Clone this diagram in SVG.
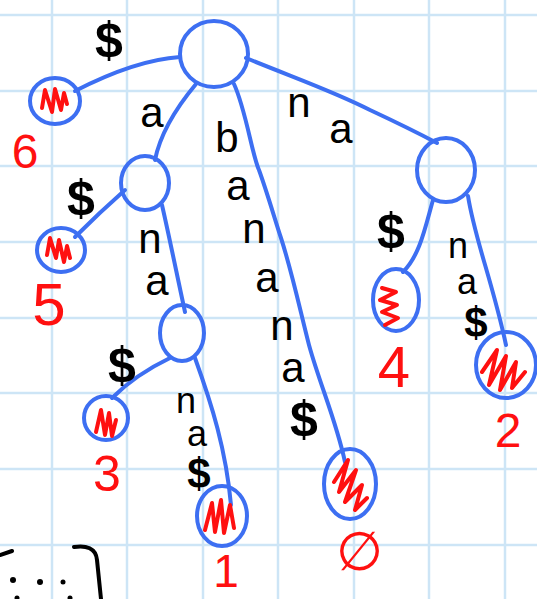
<svg xmlns="http://www.w3.org/2000/svg" width="537" height="599" viewBox="0 0 537 599">
<style>
.grid{stroke:#cde5f6;stroke-width:2.5;fill:none}
.node{fill:none;stroke:#3d6ff2;stroke-width:4}
.edge{fill:none;stroke:#3d6ff2;stroke-width:4;stroke-linecap:round;stroke-linejoin:round}
.scrib{fill:none;stroke:#ff1010;stroke-width:4;stroke-linecap:round;stroke-linejoin:round}
.lbl{font-family:"Liberation Sans",Arial,sans-serif;fill:#000;text-anchor:middle;font-size:42px}
.sm{font-size:36px}
.dol{font-family:"Liberation Sans",Arial,sans-serif;fill:#000;text-anchor:middle;font-size:50px;font-weight:bold}
.dsm{font-size:42px}
.num{font-family:"Liberation Sans",Arial,sans-serif;fill:#ff1010;text-anchor:middle}
.ink{fill:none;stroke:#000;stroke-width:4;stroke-linecap:round}
</style>
<rect width="537" height="599" fill="#fff"/>
<g id="grid" class="grid">
<path d="M52,0V599M127,0V599M203,0V599M278,0V599M354,0V599M429,0V599M505,0V599"/>
<path d="M0,15H537M0,91H537M0,166H537M0,242H537M0,318H537M0,393H537M0,469H537M0,545H537"/>
</g>
<g id="connectors">
<path class="edge" d="M180,57 C150,59 112,72 75,91"/>
<path class="edge" d="M196,84 C176,108 160,135 155,160"/>
<path class="edge" d="M234,84 C246,110 252,155 259,170 C268,195 275,220 281,238 C292,272 300,310 309,345 C320,385 336,420 345,462"/>
<path class="edge" d="M246,58 C300,80 335,92 370,110 C400,124 420,134 437,143"/>
<path class="edge" d="M125,190 C108,205 90,222 75,237"/>
<path class="edge" d="M162,205 C170,240 178,280 185,312"/>
<path class="edge" d="M170,358 C145,370 125,385 112,398"/>
<path class="edge" d="M195,358 C212,405 226,450 231,505"/>
<path class="edge" d="M433,200 C425,228 420,255 403,272"/>
<path class="edge" d="M468,196 C475,240 492,280 506,345"/>
</g>
<g id="root"><ellipse class="node" cx="214" cy="54" rx="34" ry="33"/></g>
<g id="node-a"><ellipse class="node" cx="145" cy="183" rx="24" ry="27"/></g>
<g id="node-ana"><ellipse class="node" cx="182" cy="333" rx="22" ry="28"/></g>
<g id="node-na"><ellipse class="node" cx="446" cy="170" rx="29" ry="32"/></g>
<g id="leaf6">
<ellipse class="node" cx="55" cy="101" rx="25" ry="23"/>
<path class="scrib" d="M42,108 L45,90 L52,112 L55,89 L61,110 L64,93 L67,104"/>
<text class="num" x="25" y="168" font-size="48">6</text>
</g>
<g id="leaf5">
<ellipse class="node" cx="61" cy="250" rx="24" ry="22"/>
<path class="scrib" d="M47,255 L50,238 L56,258 L59,240 L64,262 L67,246 L70,258"/>
<text class="num" x="49" y="325" font-size="60">5</text>
</g>
<g id="leaf3">
<ellipse class="node" cx="106" cy="418" rx="22" ry="22"/>
<path class="scrib" d="M96,432 L101,410 L105,435 L109,413 L112,436 L116,420"/>
<text class="num" x="107" y="491" font-size="50">3</text>
</g>
<g id="leaf1">
<ellipse class="node" cx="222" cy="516" rx="25" ry="30"/>
<path class="scrib" d="M205,530 L212,503 L215,532 L221,500 L224,533 L230,505 L234,528"/>
<text class="num" x="226" y="587" font-size="46">1</text>
</g>
<g id="leaf0">
<ellipse class="node" cx="350" cy="484" rx="26" ry="35"/>
<path class="scrib" d="M334,482 L348,460 L339,492 L356,470 L345,502 L362,485 L355,510 L367,498"/>
<text class="num" x="359" y="570" font-family="DejaVu Sans, sans-serif" font-size="54">∅</text>
</g>
<g id="leaf4">
<ellipse class="node" cx="396" cy="300" rx="23" ry="31"/>
<path class="scrib" d="M382,288 L396,292 L380,300 L397,305 L382,312 L398,318 L385,325"/>
<text class="num" x="394" y="387" font-size="58">4</text>
</g>
<g id="leaf2">
<ellipse class="node" cx="506" cy="365" rx="30" ry="33"/>
<path class="scrib" d="M482,372 L497,350 L489,385 L506,356 L500,390 L516,362 L512,388 L525,372"/>
<text class="num" x="508" y="447" font-size="48">2</text>
</g>
<g id="labels">
<text class="dol" x="109" y="57">$</text>
<text class="lbl" x="152" y="127">a</text>
<text class="lbl" x="227" y="152" font-size="52">b</text>
<text class="lbl" x="238" y="200">a</text>
<text class="lbl" x="254" y="243">n</text>
<text class="lbl" x="267" y="292">a</text>
<text class="lbl" x="282" y="340">n</text>
<text class="lbl" x="293" y="382">a</text>
<text class="dol" x="304" y="436">$</text>
<text class="lbl" x="299" y="117">n</text>
<text class="lbl" x="341" y="143">a</text>
<text class="dol" x="81" y="215">$</text>
<text class="lbl" x="150" y="253">n</text>
<text class="lbl" x="157" y="295">a</text>
<text class="dol" x="122" y="382">$</text>
<text class="lbl sm" x="186" y="413">n</text>
<text class="lbl sm" x="197" y="446">a</text>
<text class="dol dsm" x="199" y="488">$</text>
<text class="dol" x="391" y="248">$</text>
<text class="lbl sm" x="458" y="258">n</text>
<text class="lbl sm" x="467" y="294">a</text>
<text class="dol dsm" x="476" y="337">$</text>
</g>
<g id="fragment">
<path class="ink" d="M0,555 L12,551"/>
<path class="ink" d="M74,547 C86,545 96,548 97,560 L101,599"/>
<circle cx="13" cy="580" r="3"/><circle cx="40" cy="582" r="3"/><circle cx="63" cy="582" r="2.5"/><circle cx="17" cy="598" r="2.5"/><circle cx="70" cy="598" r="2.5"/>
</g>
</svg>
